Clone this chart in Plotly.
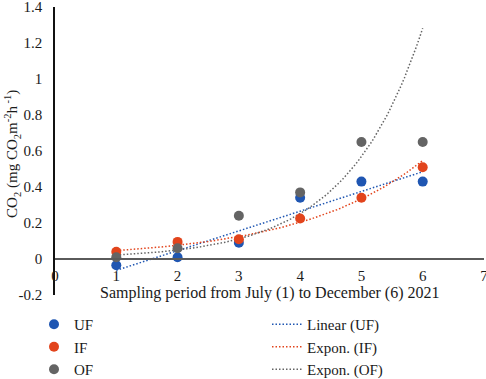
import numpy as np
import plotly.graph_objects as go

periods = [1, 2, 3, 4, 5, 6]
uf_values = [-0.035, 0.01, 0.09, 0.34, 0.43, 0.43]
if_values = [0.04, 0.095, 0.11, 0.225, 0.34, 0.51]
of_values = [0.01, 0.06, 0.24, 0.37, 0.65, 0.65]
x_ticks = [0, 1, 2, 3, 4, 5, 6, 7]
y_ticks = [-0.2, 0, 0.2, 0.4, 0.6, 0.8, 1, 1.2, 1.4]
y_tick_labels = ["-0.2", "0", "0.2", "0.4", "0.6", "0.8", "1", "1.2", "1.4"]

BLUE = "#1F56B2"
ORANGE = "#E2441C"
GRAY = "#646464"
FONT = "Liberation Serif"
W, H = 486, 379

xp = np.array(periods, dtype=float)
xs = np.linspace(1, 6, 101)

# Linear trend (UF)
b1, b0 = np.polyfit(xp, np.array(uf_values), 1)
lin_uf = b0 + b1 * xs
# Exponential trends (IF, OF)
k_if, c_if = np.polyfit(xp, np.log(np.array(if_values)), 1)
exp_if = np.exp(c_if + k_if * xs)
k_of, c_of = np.polyfit(xp, np.log(np.array(of_values)), 1)
exp_of = np.exp(c_of + k_of * xs)

DOT = "1.5px,2px"

fig = go.Figure()

fig.add_trace(go.Scatter(x=xs, y=lin_uf, mode="lines", name="Linear (UF)", legend="legend2",
                         line=dict(color=BLUE, dash=DOT, width=1.5), legendrank=1))
fig.add_trace(go.Scatter(x=xs, y=exp_if, mode="lines", name="Expon. (IF)", legend="legend2",
                         line=dict(color=ORANGE, dash=DOT, width=1.5), legendrank=2))
fig.add_trace(go.Scatter(x=xs, y=exp_of, mode="lines", name="Expon. (OF)", legend="legend2",
                         line=dict(color=GRAY, dash=DOT, width=1.5), legendrank=3))

fig.add_trace(go.Scatter(x=periods, y=uf_values, mode="markers", name="UF", legend="legend",
                         marker=dict(color=BLUE, size=10), legendrank=1))
fig.add_trace(go.Scatter(x=periods, y=if_values, mode="markers", name="IF", legend="legend",
                         marker=dict(color=ORANGE, size=10), legendrank=2))
fig.add_trace(go.Scatter(x=periods, y=of_values, mode="markers", name="OF", legend="legend",
                         marker=dict(color=GRAY, size=10), legendrank=3))

leg_common = dict(orientation="v", xanchor="left", yanchor="top",
                  xref="container", yref="container",
                  font=dict(family=FONT, size=15, color="#1a1a1a"),
                  traceorder="normal", bgcolor="rgba(0,0,0,0)", itemwidth=30,
                  borderwidth=0)

fig.update_layout(
    width=W, height=H,
    margin=dict(l=55, r=2, t=7, b=84, autoexpand=False),
    paper_bgcolor="white", plot_bgcolor="white",
    font=dict(family=FONT, size=15, color="#1a1a1a"),
    showlegend=True,
    legend=dict(x=34 / W, y=1 - 308 / H, **leg_common),
    legend2=dict(x=267 / W, y=1 - 308 / H, **leg_common),
    xaxis=dict(range=[0, 7], tickvals=x_ticks, ticktext=[str(v) for v in x_ticks],
               showgrid=False, zeroline=False, showline=True, linecolor="#5a5a5a", linewidth=1.5,
               anchor="free", position=0.125, ticks="", ticklabelstandoff=3,
               ticklabeloverflow="allow",
               tickfont=dict(family=FONT, size=15)),
    yaxis=dict(range=[-0.2, 1.4], tickvals=y_ticks, ticktext=y_tick_labels,
               showgrid=False, zeroline=False, showline=True, linecolor="#111111", linewidth=1.5,
               ticks="", ticklabelstandoff=8, ticklabeloverflow="allow",
               tickfont=dict(family=FONT, size=15)),
    annotations=[
        dict(text="CO<sub>2</sub> (mg CO<sub>2</sub>m<sup>-2</sup>h<sup> -1</sup>)",
             xref="paper", yref="paper", x=-43 / 429, y=0.49,
             xanchor="center", yanchor="middle", textangle=-90, showarrow=False,
             font=dict(family=FONT, size=15, color="#1a1a1a")),
        dict(text="Sampling period from July (1) to December (6) 2021",
             xref="paper", yref="paper", x=0.5, y=0.006,
             xanchor="center", yanchor="middle", showarrow=False,
             font=dict(family=FONT, size=16, color="#1a1a1a")),
    ],
)

fig.write_html("out.html", config={"displayModeBar": False},
               post_script="document.body.style.margin='0';")
